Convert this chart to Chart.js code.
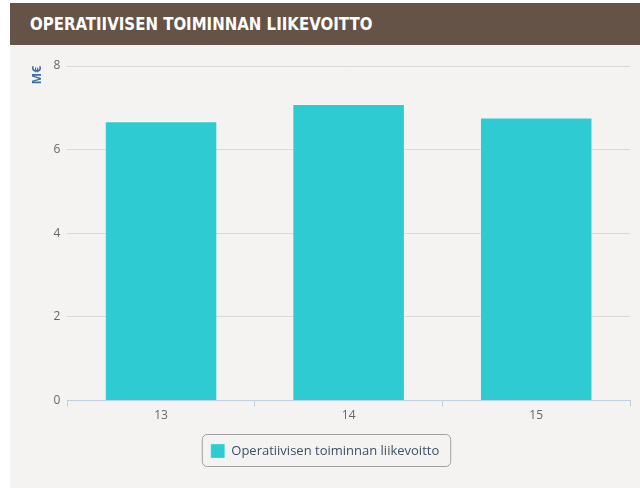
<!DOCTYPE html>
<html>
<head>
<meta charset="utf-8">
<script src="https://cdn.jsdelivr.net/npm/chart.js@4/dist/chart.umd.min.js"></script>
<style>
  html, body { margin: 0; padding: 0; background: #ffffff; }
  #panel { position: absolute; left: 10px; top: 3px; width: 630px; height: 485px; background: #f4f3f1; }
  #header {
    height: 42px; background: #665347; color: #ffffff;
    font-family: "DejaVu Sans Condensed", "DejaVu Sans", sans-serif;
    font-stretch: condensed;
    font-weight: bold; font-size: 17px; line-height: 42px; padding-left: 20px;
    white-space: nowrap;
  }
  #header span { display: inline-block; transform-origin: left center; transform: scaleX(0.98); }
  #wrap { position: absolute; left: 0; top: 42px; width: 630px; height: 443px; }
</style>
</head>
<body>
<div id="panel">
  <div id="header"><span>OPERATIIVISEN TOIMINNAN LIIKEVOITTO</span></div>
  <div id="wrap"><canvas id="chart"></canvas></div>
</div>
<script>
(function () {
  "use strict";

  const years = ['13', '14', '15'];
  const profit = [6.68, 7.09, 6.77];
  const yTicks = [0, 2, 4, 6, 8];
  const seriesName = 'Operatiivisen toiminnan liikevoitto';

  // rounded frame round the legend, like the original
  const legendFrame = {
    id: 'legendFrame',
    afterDraw(chart) {
      const lg = chart.legend;
      if (!lg || !lg.legendHitBoxes.length) return;
      const hb = lg.legendHitBoxes[0];
      const x = hb.left - 9, y = hb.top - 10, w = hb.width + 20, h = hb.height + 18;
      const ctx = chart.ctx;
      ctx.save();
      ctx.beginPath();
      ctx.roundRect(x + 0.5, y + 0.5, w, h, 5);
      ctx.strokeStyle = '#a0a0a0';
      ctx.lineWidth = 1;
      ctx.stroke();
      ctx.restore();
    }
  };

  new Chart(document.getElementById('chart'), {
    type: 'bar',
    data: {
      labels: years,
      datasets: [{
        label: seriesName,
        data: profit,
        backgroundColor: '#2ecbd3',
        borderColor: 'rgba(255,255,255,0.35)',
        borderWidth: {top: 1, left: 1, right: 1, bottom: 0},
        barPercentage: 0.6,
        categoryPercentage: 1.0
      }]
    },
    options: {
      responsive: true,
      maintainAspectRatio: false,
      animation: false,
      layout: { padding: { left: 10, right: 10, top: 21, bottom: 20 } },
      plugins: {
        legend: {
          position: 'bottom',
          labels: {
            boxWidth: 14,
            boxHeight: 14,
            padding: 19,
            color: '#3d5068',
            font: { family: 'Open Sans', size: 13 }
          }
        },
        tooltip: { enabled: false }
      },
      scales: {
        x: {
          grid: { drawOnChartArea: false, color: '#c0d0e0', tickLength: 6, offset: true },
          border: { color: '#c0d0e0' },
          ticks: { color: '#666666', font: { family: 'Open Sans', size: 12 }, padding: 2 }
        },
        y: {
          min: 0,
          max: 8,
          afterBuildTicks: axis => { axis.ticks = yTicks.map(v => ({value: v})); },
          grid: { color: '#d8d8d8', drawTicks: false },
          border: { display: false },
          ticks: { color: '#666666', font: { family: 'Open Sans', size: 12 }, padding: 7 },
          title: {
            display: true,
            text: 'M€',
            align: 'end',
            color: '#3a6fa8',
            font: { family: 'Open Sans', size: 12, weight: 'bold' },
            padding: { top: 10, bottom: 2 }
          }
        }
      }
    },
    plugins: [legendFrame]
  });
})();
</script>
</body>
</html>
